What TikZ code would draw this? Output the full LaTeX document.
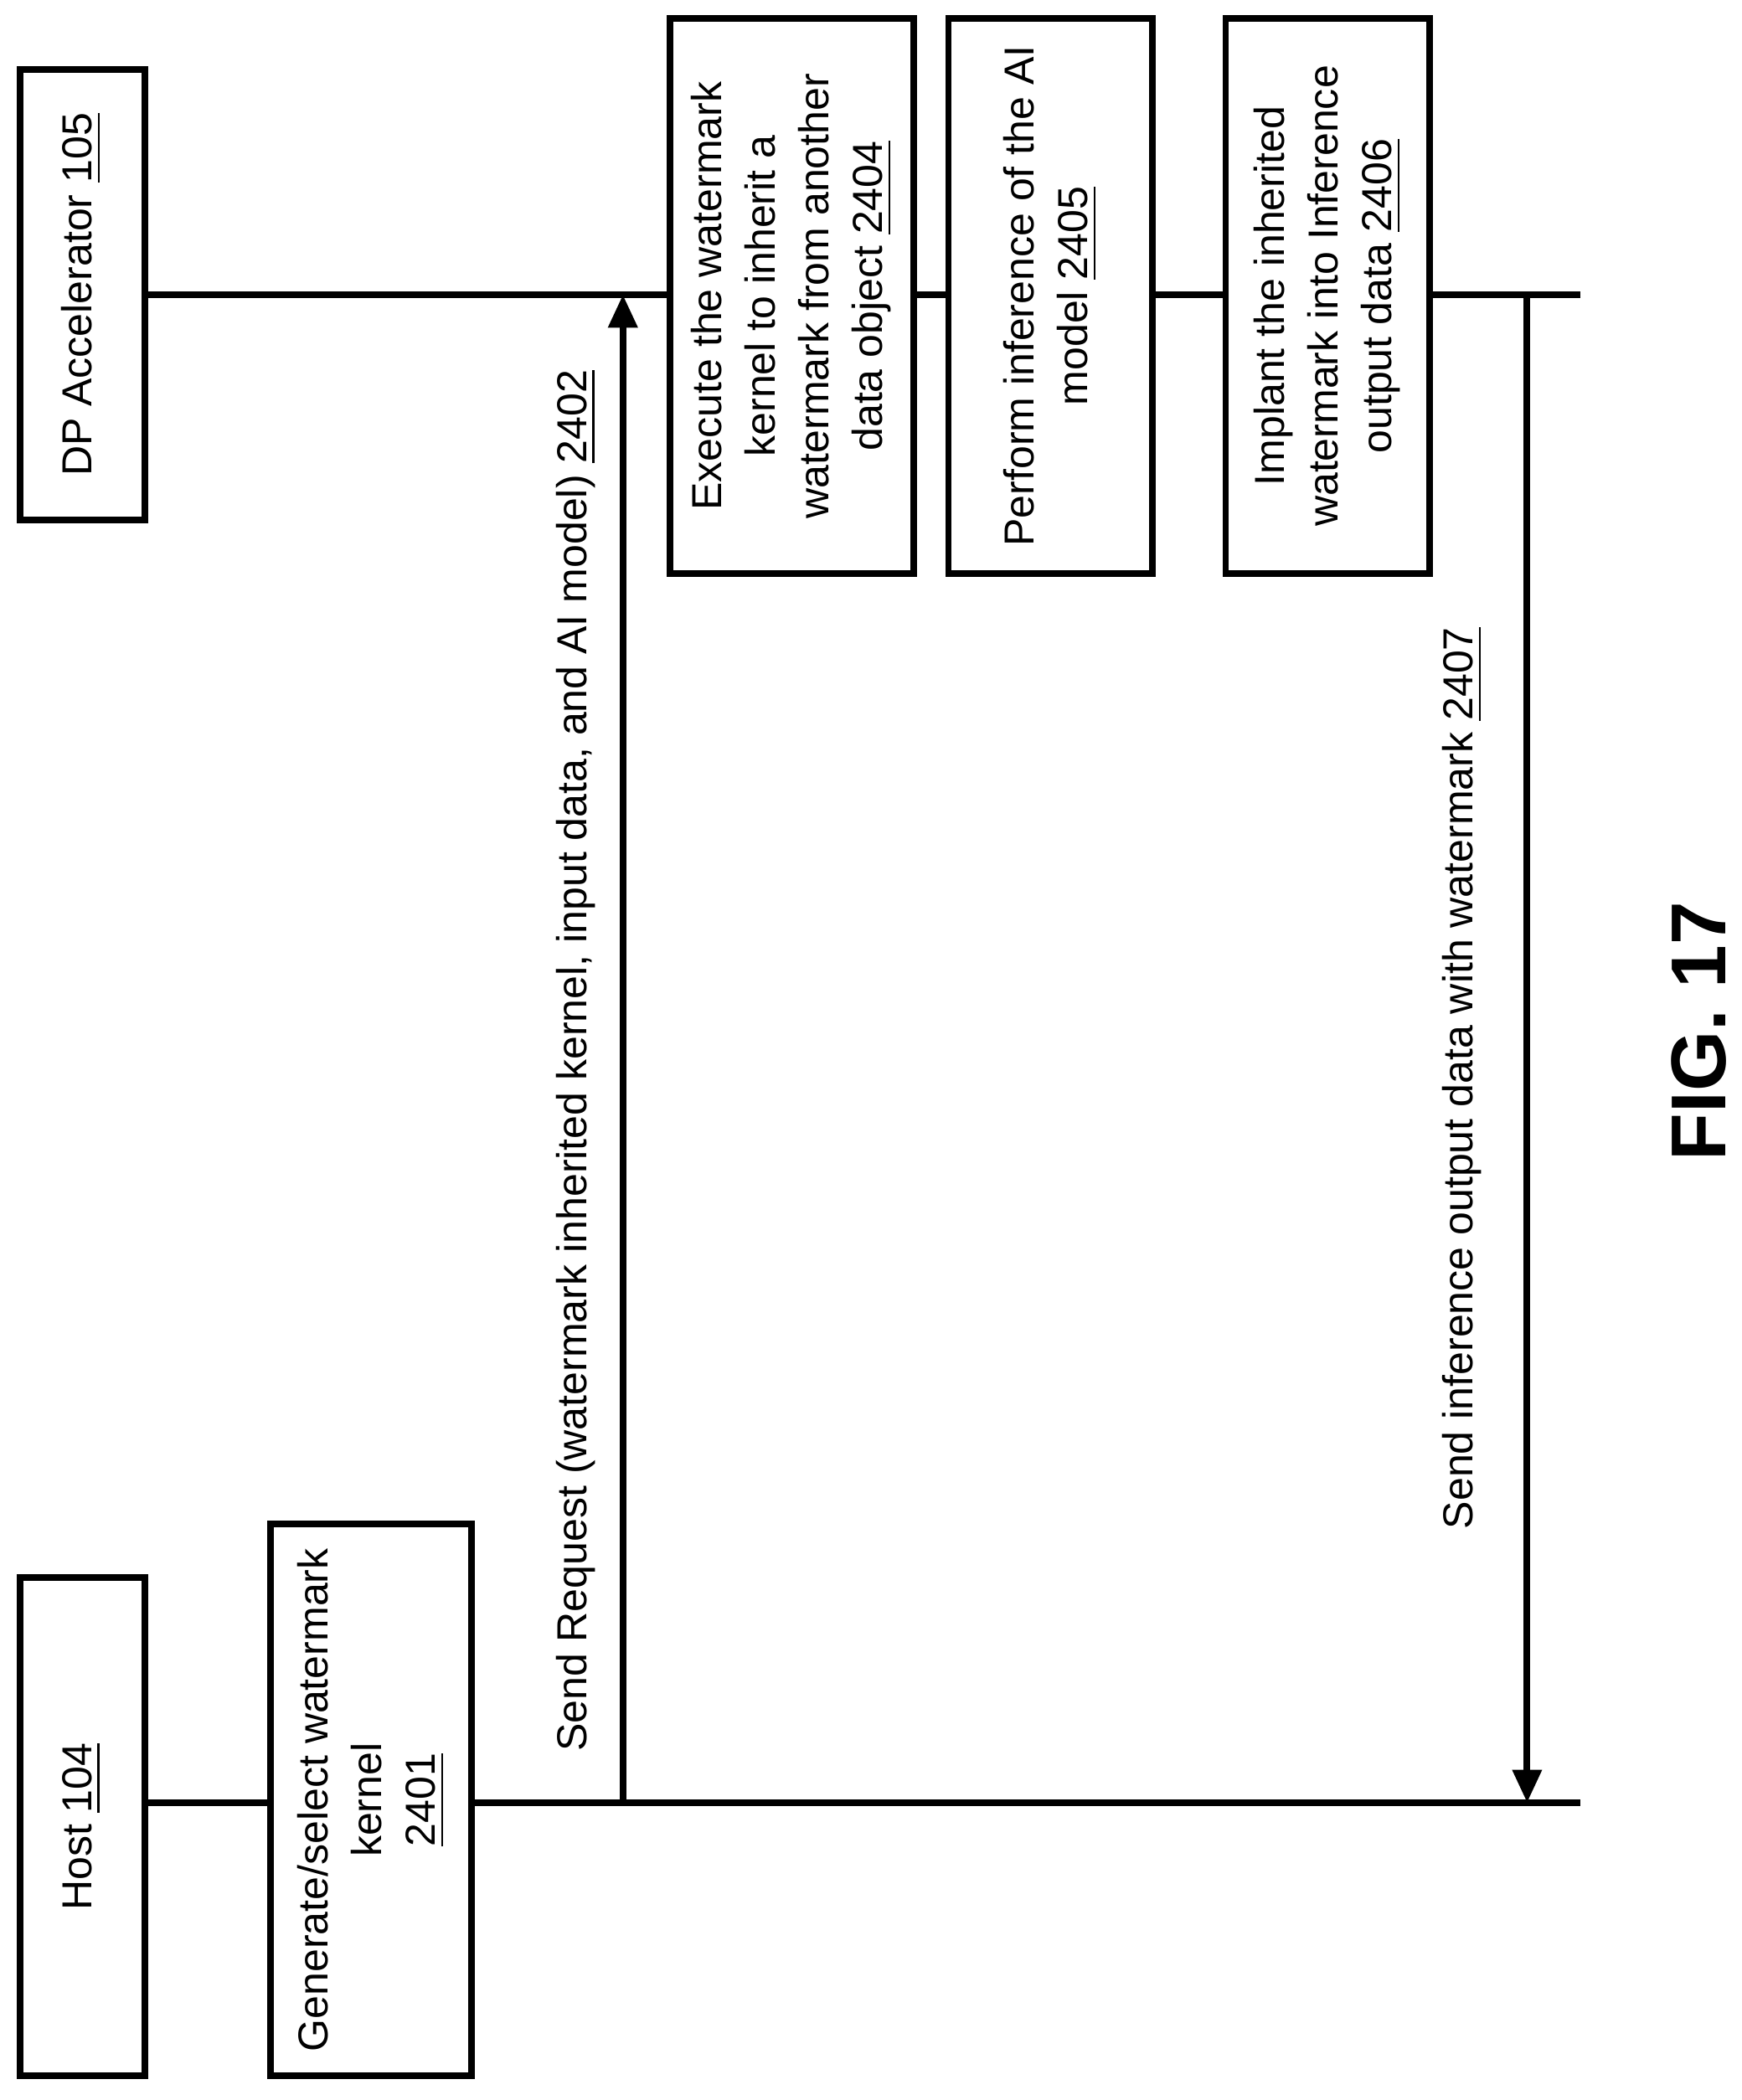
\documentclass[tikz,border=0pt]{standalone}
\usepackage{fontspec}
\setmainfont{Liberation Sans}
\usetikzlibrary{arrows.meta}
\begin{document}
\begin{tikzpicture}[x=0.01cm,y=-0.01cm,
  box/.style={draw,line width=1.4pt},
  txt/.style={rotate=90,align=center,font=\fontsize{8.9}{11.4}\selectfont},
  ln/.style={line width=1.4pt},
  arr/.style={line width=1.4pt,-{Triangle[length=7pt,width=6pt]}}]
\useasboundingbox (0,0) rectangle (1300,1568);
\draw[box] (15,1178) rectangle (108,1550); \node[txt] (host) at (61,1364) {Host \underline{104}};
\draw[box] (202,1138) rectangle (352,1550); \node[txt] (gen) at (277,1344) {Generate/select watermark\\kernel\\\underline{2401}};
\draw[box] (15,52) rectangle (108,388); \node[txt] (dp) at (61,220) {DP Accelerator \underline{105}};
\draw[box] (500,14) rectangle (682,428); \node[txt] (ex) at (591,221) {Execute the watermark\\kernel to inherit a\\watermark from another\\data object \underline{2404}};
\draw[box] (708,14) rectangle (860,428); \node[txt] (pf) at (784,221) {Perform inference of the AI\\model \underline{2405}};
\draw[box] (915,14) rectangle (1067,428); \node[txt] (im) at (991,221) {Implant the inherited\\watermark into Inference\\output data \underline{2406}};
\coordinate (h0) at (108,1346); \coordinate (h1) at (202,1346);
\coordinate (h2) at (352,1346); \coordinate (hend) at (1180,1346);
\draw[ln] (h0)--(h1) (h2)--(hend);
\draw[ln] (108,220)--(500,220) (682,220)--(708,220) (860,220)--(915,220) (1067,220)--(1180,220);
\coordinate (a0) at (465,1346); \coordinate (a1) at (465,220);
\draw[arr] (a0)--(a1);
\node[txt] (l1) at (430,792) {Send Request (watermark inherited kernel, input data, and AI model) \underline{2402}};
\coordinate (b0) at (1140,220); \coordinate (b1) at (1140,1346);
\draw[arr] (b0)--(b1);
\node[txt] (l2) at (1092,805) {Send inference output data with watermark \underline{2407}};
\node[rotate=90,font=\fontsize{16.5}{20}\selectfont\bfseries] (fig) at (1268,770) {FIG. 17};
\end{tikzpicture}
\end{document}
